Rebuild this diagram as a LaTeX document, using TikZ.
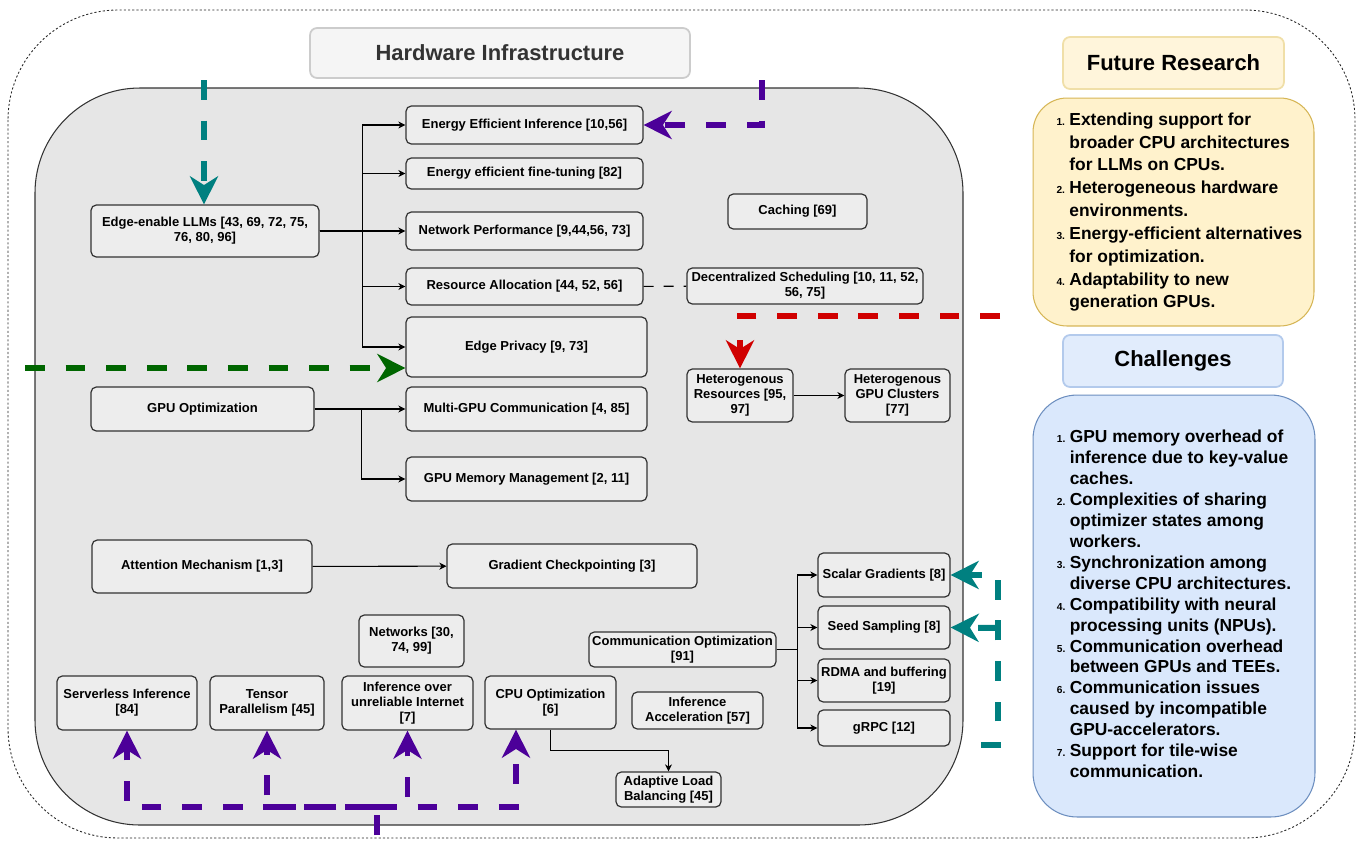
\documentclass[tikz,border=0pt]{standalone}
\usepackage{fontspec}
\setmainfont{Liberation Sans}
\usetikzlibrary{arrows.meta}
\definecolor{linegray}{HTML}{333333}
\definecolor{panelgray}{HTML}{E6E6E6}
\definecolor{boxgray}{HTML}{EDEDED}
\definecolor{titlefill}{HTML}{F5F5F5}
\definecolor{titleline}{HTML}{CCCCCC}
\definecolor{titletext}{HTML}{333333}
\definecolor{futurefill}{HTML}{FFF2CC}
\definecolor{futureline}{HTML}{D6B656}
\definecolor{futuretitlefill}{HTML}{FFF5DB}
\definecolor{futuretitleline}{HTML}{F0DFA8}
\definecolor{challengefill}{HTML}{DAE8FC}
\definecolor{challengeline}{HTML}{6C8EBF}
\definecolor{challengetitlefill}{HTML}{E1ECFC}
\definecolor{challengetitleline}{HTML}{B3CAEC}
\definecolor{arrowteal}{HTML}{008080}
\definecolor{arrowpurple}{HTML}{4C0099}
\definecolor{arrowgreen}{HTML}{006600}
\definecolor{arrowred}{HTML}{D00000}
\newcommand{\itemno}[1]{{\fontsize{5.8}{6}\selectfont #1.}}

\begin{document}
\begin{tikzpicture}[
    x=0.02cm, y=-0.02cm,
    every node/.style={align=center},
    box/.style={draw=linegray, fill=boxgray, rounded corners=3pt, line width=0.7pt, inner sep=1pt, font=\bfseries\fontsize{7.4}{8.6}\selectfont},
    heading/.style={rounded corners=4pt, line width=1pt, font=\bfseries\fontsize{12.5}{14}\selectfont},
    listbox/.style={rounded corners=#1, line width=0.6pt},
    thin arrow/.style={draw=black, line width=0.6pt, -{Stealth[length=4pt,width=4pt,inset=1.2pt]}},
    bold arrow/.style={draw=#1, line width=3.4pt, dash pattern=on 11.3pt off 11.8pt, -{Stealth[length=16pt,width=16pt,inset=5pt]}},
    ]
\useasboundingbox (0,0) rectangle (1356,840);
\draw[black!85, line width=0.5pt, dash pattern=on 1.2pt off 1.2pt, rounded corners=2.2cm] (8,10) rectangle (1355,838);
\draw[draw=linegray, fill=panelgray, line width=0.6pt, rounded corners=2.1cm] (35,88) rectangle (963,825);
\node[heading, draw=titleline, fill=titlefill, text=titletext, minimum width=7.6cm, minimum height=1cm] (hwtitle) at (500,53) {Hardware Infrastructure};
\node[box, minimum width=4.56cm, minimum height=1.04cm] (llm) at (205,231) {Edge-enable LLMs [43, 69, 72, 75,\\ 76, 80, 96]};
\node[box, minimum width=4.74cm, minimum height=0.76cm] (eei) at (524.5,125) {Energy Efficient Inference [10,56]};
\node[box, minimum width=4.74cm, minimum height=0.62cm] (eft) at (524.5,173.5) {Energy efficient fine-tuning [82]};
\node[box, minimum width=4.74cm, minimum height=0.76cm] (netp) at (524.5,231) {Network Performance [9,44,56, 73]};
\node[box, minimum width=4.74cm, minimum height=0.74cm] (ralloc) at (524.5,286.5) {Resource Allocation [44, 52, 56]};
\node[box, minimum width=4.82cm, minimum height=1.2cm] (privacy) at (526.5,347) {Edge Privacy [9, 73]};
\node[box, minimum width=4.46cm, minimum height=0.88cm] (gpuopt) at (202.5,409) {GPU Optimization};
\node[box, minimum width=4.82cm, minimum height=0.88cm] (mgpu) at (526.5,409) {Multi-GPU Communication [4, 85]};
\node[box, minimum width=4.82cm, minimum height=0.88cm] (gpumem) at (526.5,479) {GPU Memory Management [2, 11]};
\node[box, minimum width=4.4cm, minimum height=1.06cm] (attn) at (202,566.5) {Attention Mechanism [1,3]};
\node[box, minimum width=5cm, minimum height=0.88cm] (gradck) at (572,566) {Gradient Checkpointing [3]};
\node[box, minimum width=2.78cm, minimum height=0.7cm] (caching) at (797.5,211.5) {Caching [69]};
\node[box, minimum width=4.72cm, minimum height=0.72cm] (decsched) at (805,286) {Decentralized Scheduling [10, 11, 52,\\ 56, 75]};
\node[box, minimum width=2.12cm, minimum height=1.06cm] (hetres) at (740,395.5) {Heterogenous\\ Resources [95,\\ 97]};
\node[box, minimum width=2.1cm, minimum height=1.06cm] (hetgpu) at (897.5,395.5) {Heterogenous\\ GPU Clusters\\ {[77]}};
\node[box, minimum width=2.8cm, minimum height=1.08cm] (serverless) at (127,703) {Serverless Inference\\ {[84]}};
\node[box, minimum width=2.28cm, minimum height=1.08cm] (tensor) at (267,703) {Tensor\\ Parallelism [45]};
\node[box, minimum width=2.62cm, minimum height=1.08cm] (unrel) at (407.5,703) {Inference over\\ unreliable Internet\\ {[7]}};
\node[box, minimum width=2.1cm, minimum height=1.04cm] (networks) at (411.5,641) {Networks [30,\\ 74, 99]};
\node[box, minimum width=2.62cm, minimum height=1.06cm] (cpuopt) at (550.5,702.5) {CPU Optimization\\ {[6]}};
\node[box, minimum width=2.62cm, minimum height=0.74cm] (infacc) at (697.5,710.5) {Inference\\ Acceleration [57]};
\node[box, minimum width=3.74cm, minimum height=0.7cm] (commopt) at (682.5,649.5) {Communication Optimization\\ {[91]}};
\node[box, minimum width=2.64cm, minimum height=0.88cm] (scalar) at (884,575) {Scalar Gradients [8]};
\node[box, minimum width=2.64cm, minimum height=0.86cm] (seed) at (884,627.5) {Seed Sampling [8]};
\node[box, minimum width=2.64cm, minimum height=0.86cm] (rdma) at (884,680.5) {RDMA and buffering\\ {[19]}};
\node[box, minimum width=2.64cm, minimum height=0.72cm] (grpc) at (884,728) {gRPC [12]};
\node[box, minimum width=2.1cm, minimum height=0.7cm] (alb) at (668.5,789.5) {Adaptive Load\\ Balancing [45]};
\node[heading, draw=futuretitleline, fill=futuretitlefill, minimum width=4.42cm, minimum height=1.04cm] (frtitle) at (1173.5,63) {Future Research};
\node[listbox=0.68cm, draw=futureline, fill=futurefill, minimum width=5.62cm, minimum height=4.56cm, font=\bfseries\fontsize{9.9}{13}\selectfont] (frlist) at (1173.5,212) {\begin{tabular}{@{\hspace{6.8pt}}r@{\hspace{2.5pt}}l@{}}
\itemno{1} & Extending support for\\
 & broader CPU architectures\\
 & for LLMs on CPUs.\\
\itemno{2} & Heterogeneous hardware\\
 & environments.\\
\itemno{3} & Energy-efficient alternatives\\
 & for optimization.\\
\itemno{4} & Adaptability to new\\
 & generation GPUs.
\end{tabular}};
\node[heading, draw=challengetitleline, fill=challengetitlefill, minimum width=4.4cm, minimum height=1.04cm] (chtitle) at (1173,361) {Challenges};
\node[listbox=0.88cm, draw=challengeline, fill=challengefill, minimum width=5.64cm, minimum height=8.44cm, font=\bfseries\fontsize{9.9}{11.9}\selectfont] (chlist) at (1174,606) {\begin{tabular}{@{}r@{\hspace{2.5pt}}l@{}}
\itemno{1} & GPU memory overhead of\\
 & inference due to key-value\\
 & caches.\\
\itemno{2} & Complexities of sharing\\
 & optimizer states among\\
 & workers.\\
\itemno{3} & Synchronization among\\
 & diverse CPU architectures.\\
\itemno{4} & Compatibility with neural\\
 & processing units (NPUs).\\
\itemno{5} & Communication overhead\\
 & between GPUs and TEEs.\\
\itemno{6} & Communication issues\\
 & caused by incompatible\\
 & GPU-accelerators.\\
\itemno{7} & Support for tile-wise\\
 & communication.
\end{tabular}};
\draw[thin arrow] (llm.east) -- ++(43,0) |- (eei.west);
\draw[thin arrow] (llm.east) -- ++(43,0) |- (eft.west);
\draw[thin arrow] (llm.east) -- (netp.west);
\draw[thin arrow] (llm.east) -- ++(43,0) |- (ralloc.west);
\draw[thin arrow] (llm.east) -- ++(43,0) |- (privacy.west);
\draw[thin arrow] (gpuopt.east) -- (mgpu.west);
\draw[thin arrow] (gpuopt.east) -- ++(47,0) |- (gpumem.west);
\draw[thin arrow] (attn) -- (gradck);
\draw[thin arrow] (hetres) -- (hetgpu);
\draw[thin arrow] (commopt.east) -- ++(21,0) |- (scalar.west);
\draw[thin arrow] (commopt.east) -- ++(21,0) |- (seed.west);
\draw[thin arrow] (commopt.east) -- ++(21,0) |- (rdma.west);
\draw[thin arrow] (commopt.east) -- ++(21,0) |- (grpc.west);
\draw[thin arrow] (cpuopt.south) -- ++(0,21) -| (alb.north);
\draw[line width=0.6pt, dash pattern=on 5.7pt off 5.7pt] (ralloc) -- (decsched);
\coordinate (tealtop) at (204,80);
\draw[bold arrow=arrowteal] (tealtop) -- (tealtop |- llm.north);
\coordinate (purpletop) at (762,80);
\draw[bold arrow=arrowpurple] (purpletop) |- (eei.east);
\coordinate (greenin) at (25,368);
\draw[bold arrow=arrowgreen] (greenin) -- (greenin -| privacy.west);
\coordinate (redin) at (1000,316);
\draw[bold arrow=arrowred] (redin) -| (hetres.north);
\coordinate (tealbot) at (981,745);
\draw[bold arrow=arrowteal] (tealbot) -- ++(17,0) |- (scalar.east);
\coordinate (tealmid) at (998,628);
\draw[bold arrow=arrowteal] (tealmid) -- (seed.east);
\coordinate (purplebot) at (377,835);
\coordinate (purplebar) at (377,807);
\draw[bold arrow=arrowpurple] (purplebot) -- (purplebar) -| (serverless.south);
\draw[bold arrow=arrowpurple] (purplebar) -| (tensor.south);
\draw[bold arrow=arrowpurple] (purplebar) -| (unrel.south);
\draw[bold arrow=arrowpurple] (purplebar) -| ([xshift=-0.69cm]cpuopt.south);
\end{tikzpicture}
\end{document}
